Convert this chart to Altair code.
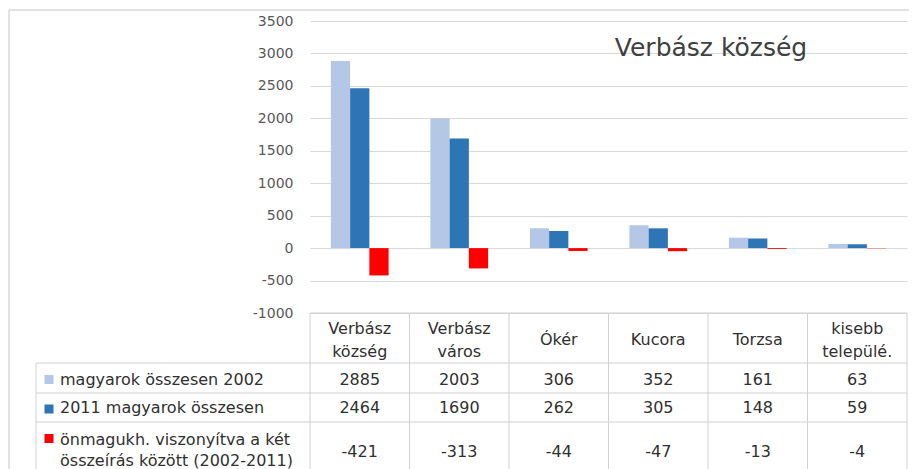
import altair as alt
import pandas as pd

# ---------------- data ----------------
categories = ["Verbász község", "Verbász város", "Ókér", "Kucora", "Torzsa", "kisebb települé."]
series = [
    "magyarok összesen 2002",
    "2011 magyarok összesen",
    "önmagukh. viszonyítva a két összeírás között (2002-2011)",
]
series_labels = [
    "magyarok összesen 2002",
    "2011 magyarok összesen",
    "önmagukh. viszonyítva a két\nösszeírás között (2002-2011)",
]
values_2002 = [2885, 2003, 306, 352, 161, 63]
values_2011 = [2464, 1690, 262, 305, 148, 59]
values_diff = [-421, -313, -44, -47, -13, -4]
colors = ["#B4C7E7", "#2E75B6", "#FF0000"]
y_ticks = [3500, 3000, 2500, 2000, 1500, 1000, 500, 0, -500, -1000]
chart_title = "Verbász község"

# ---------------- layout / style ----------------
W, H_TOP, H_TAB = 597, 292, 156
FONT = "DejaVu Sans"
GRID = "#D9D9D9"
LINE = "#D0D0D0"
TEXT = "#303030"
LEG_LEFT = -274          # left edge of the legend column (px from plot left)
ROW_EDGES = [50, 80, 109]
ROW_TEXT_Y = [66.5, 95, 139]
ROW_LABEL_Y = [66.5, 95, 126.5]      # first line of each label
ROW_SWATCH_Y = [66.5, 96, 125.5]

rows = []
for i, (s, vals) in enumerate(zip(series, [values_2002, values_2011, values_diff])):
    for c, v in zip(categories, vals):
        rows.append({"cat": c, "series": s, "value": v, "label": str(v), "ty": ROW_TEXT_Y[i]})
df = pd.DataFrame(rows)

df_cat = pd.DataFrame({"cat": categories})
df_last = pd.DataFrame({"cat": categories[-1:]})
df_leg = pd.DataFrame({
    "series": series,
    "label": series_labels,
    "ly": ROW_LABEL_Y,
    "sy": ROW_SWATCH_Y,
})
df_edges = pd.DataFrame({"e": ROW_EDGES})
one = pd.DataFrame({"t": [chart_title]})

color = alt.Color("series:N", scale=alt.Scale(domain=series, range=colors), legend=None)

# ---------------- top: bar chart ----------------
x_top = alt.X("cat:N", sort=categories, axis=None,
              scale=alt.Scale(paddingInner=0.42, paddingOuter=0.21))
bars = alt.Chart(df).mark_bar().encode(
    x=x_top,
    xOffset=alt.XOffset("series:N", sort=series,
                        scale=alt.Scale(domain=series, paddingInner=0, paddingOuter=0)),
    y=alt.Y("value:Q",
            scale=alt.Scale(domain=[-1000, 3500], nice=False, zero=False),
            axis=alt.Axis(values=y_ticks, title=None, grid=True, gridColor=GRID,
                          gridWidth=1, domain=False, ticks=False, labelFont=FONT,
                          labelFontSize=14, labelColor="#595959", labelPadding=17,
                          labelExpr="'' + datum.value")),
    color=color,
)
title_layer = alt.Chart(one).mark_text(
    font=FONT, fontSize=25, color="#404040", align="center", baseline="middle"
).encode(text="t:N", x=alt.value(401), y=alt.value(27))
border_top = alt.Chart(one).mark_rule(color=GRID, strokeWidth=1.5).encode(
    x=alt.value(-301), x2=alt.value(W + 2), y=alt.value(-11))
border_left = alt.Chart(one).mark_rule(color=GRID, strokeWidth=1.5).encode(
    x=alt.value(-301), y=alt.value(-11), y2=alt.value(H_TOP + H_TAB))

top = alt.layer(bars, title_layer, border_top, border_left).properties(width=W, height=H_TOP)

# ---------------- bottom: data table ----------------
tab_scale = alt.Scale(paddingInner=0, paddingOuter=0)
y_tab_scale = alt.Scale(domain=[0, H_TAB], reverse=True, nice=False, zero=False)

vlines = alt.Chart(df_cat).mark_rule(color=LINE).encode(
    x=alt.X("cat:N", sort=categories, axis=None, scale=tab_scale, bandPosition=0),
    y=alt.value(0), y2=alt.value(H_TAB))
vlast = alt.Chart(df_last).mark_rule(color=LINE).encode(
    x=alt.X("cat:N", sort=categories, axis=None, scale=tab_scale, bandPosition=1),
    y=alt.value(0), y2=alt.value(H_TAB))
vleg = alt.Chart(one).mark_rule(color=LINE).encode(
    x=alt.value(LEG_LEFT), y=alt.value(ROW_EDGES[0]), y2=alt.value(H_TAB))
htop = alt.Chart(one).mark_rule(color=LINE).encode(
    x=alt.value(0), x2=alt.value(W), y=alt.value(0))
hlines = alt.Chart(df_edges).mark_rule(color=LINE).encode(
    x=alt.value(LEG_LEFT), x2=alt.value(W),
    y=alt.Y("e:Q", axis=None, scale=y_tab_scale))

header = alt.Chart(df_cat).transform_calculate(
    hy="indexof(datum.cat, ' ') >= 0 ? 15.5 : 27"
).mark_text(
    font=FONT, fontSize=16, color=TEXT, lineBreak=" ", lineHeight=23,
    align="center", baseline="middle"
).encode(
    x=alt.X("cat:N", sort=categories, axis=None, scale=tab_scale),
    y=alt.Y("hy:Q", axis=None, scale=y_tab_scale),
    text="cat:N")

numbers = alt.Chart(df).mark_text(
    font=FONT, fontSize=16, color=TEXT, align="center", baseline="middle"
).encode(
    x=alt.X("cat:N", sort=categories, axis=None, scale=tab_scale),
    y=alt.Y("ty:Q", axis=None, scale=y_tab_scale),
    text="label:N")

leg_text = alt.Chart(df_leg).mark_text(
    font=FONT, fontSize=16, color=TEXT, align="left", baseline="middle",
    lineBreak="\n", lineHeight=21
).encode(
    x=alt.value(LEG_LEFT + 24),
    y=alt.Y("ly:Q", axis=None, scale=y_tab_scale),
    text="label:N")

leg_sw = alt.Chart(df_leg).mark_square(size=81, opacity=1).encode(
    x=alt.value(LEG_LEFT + 13),
    y=alt.Y("sy:Q", axis=None, scale=y_tab_scale),
    color=color)

bottom = alt.layer(vlines, vlast, vleg, htop, hlines, header, numbers, leg_text, leg_sw).properties(
    width=W, height=H_TAB)

chart = alt.vconcat(top, bottom, spacing=0, bounds="flush").resolve_scale(
    x="independent", y="independent"
).properties(
    padding={"left": 0, "top": 1, "right": 0, "bottom": 0},
).configure_view(stroke=None)

chart.save("out.html", embed_options={"renderer": "svg", "actions": False})
